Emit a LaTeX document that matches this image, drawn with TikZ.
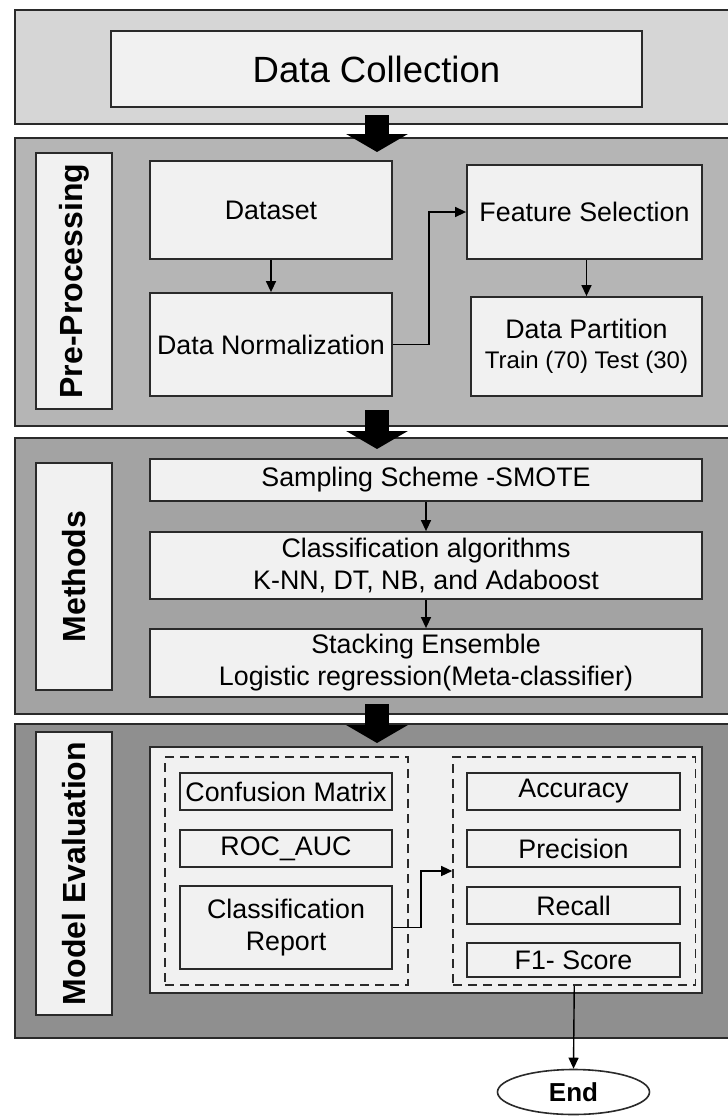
\documentclass[tikz,border=0pt]{standalone}
\usepackage{fontspec}
\setmainfont{Liberation Sans}
\usetikzlibrary{arrows.meta,shapes.geometric}
\definecolor{pone}{HTML}{D6D6D6}
\definecolor{ptwo}{HTML}{B5B5B5}
\definecolor{pthree}{HTML}{A3A3A3}
\definecolor{pfour}{HTML}{8F8F8F}
\definecolor{boxfill}{HTML}{F1F1F1}
\definecolor{edge}{HTML}{2A2A2A}
\begin{document}
\begin{tikzpicture}[x=1pt,y=-1pt,
  panel/.style={draw=edge, line width=2pt, rectangle, inner sep=0pt},
  box/.style={draw=edge, line width=1.8pt, fill=boxfill, rectangle, inner sep=1pt, align=center,
    font=\fontsize{26.8}{32}\selectfont},
  lab/.style={draw=edge, line width=1.8pt, fill=boxfill, rectangle, inner sep=0pt,
    font=\fontsize{32}{36}\selectfont\bfseries},
  dbox/.style={draw=edge, line width=1.6pt, dash pattern=on 9pt off 6pt, rectangle, inner sep=0pt},
  conn/.style={draw=black, line width=1.4pt, -{Triangle[length=11pt,width=10pt]}},
  bigarrow/.style={draw=black, line width=24pt, -{Triangle[length=18pt,width=61pt]}},
]
\clip (0,0) rectangle (728,1117);
\fill[white] (0,0) rectangle (728,1117);

% panels
\node[panel, fill=pone, minimum width=760, minimum height=114, anchor=north west] (P1) at (14,9) {};
\node[panel, fill=ptwo, minimum width=760, minimum height=288, anchor=north west] (P2) at (14,137) {};
\node[panel, fill=pthree, minimum width=760, minimum height=276, anchor=north west] (P3) at (14,437) {};
\node[panel, fill=pfour, minimum width=760, minimum height=314, anchor=north west] (P4) at (14,723) {};

% panel 1
\node[box, minimum width=531, minimum height=76, font=\fontsize{36.5}{40}\selectfont] (DC) at (376.5,69) {Data Collection};

% labels
\node[lab, minimum height=76, minimum width=256, rotate=90] (L2) at (74,281) {Pre-Processing};
\node[lab, minimum height=76, minimum width=227, rotate=90] (L3) at (74,576.5) {Methods};
\node[lab, minimum height=76, minimum width=283, rotate=90] (L4) at (74,873.5) {Model Evaluation};

% panel 2
\node[box, minimum width=242, minimum height=98] (DS) at (271,210) {Dataset};
\node[box, minimum width=242, minimum height=103] (DN) at (271,344.5) {Data Normalization};
\node[box, minimum width=235, minimum height=94] (FS) at (584.5,212) {Feature Selection};
\node[box, minimum width=231, minimum height=99] (DP) at (586.5,346.5) {Data Partition\\[-2pt]{\fontsize{24}{28}\selectfont Train (70) Test (30)}};

% panel 3
\node[box, minimum width=552, minimum height=42] (SS) at (426,480) {Sampling Scheme -SMOTE};
\node[box, minimum width=552, minimum height=67] (CA) at (426,565.5) {Classification algorithms\\K-NN, DT, NB, and Adaboost};
\node[box, minimum width=552, minimum height=68] (SE) at (426,663) {Stacking Ensemble\\Logistic regression(Meta-classifier)};

% panel 4
\node[box, minimum width=552, minimum height=246] (IW) at (426,870) {};
\node[dbox, minimum width=243, minimum height=228] (LD) at (286.5,871) {};
\node[dbox, minimum width=242.5, minimum height=228] (RD) at (574.25,871) {};
\node[box, minimum width=212, minimum height=37, inner sep=0pt] (CM) at (286,791.5) {Confusion Matrix};
\node[box, minimum width=212, minimum height=37] (RA) at (286,848.5) {ROC\_AUC};
\node[box, minimum width=212, minimum height=83] (CR) at (286,927.5) {Classification\\Report};
\node[box, minimum width=213, minimum height=37] (AC) at (573.5,791.5) {Accuracy};
\node[box, minimum width=213, minimum height=37] (PR) at (573.5,848.5) {Precision};
\node[box, minimum width=213, minimum height=37] (RC) at (573.5,905.5) {Recall};
\node[box, minimum width=213, minimum height=34] (F1) at (573.5,960) {F1- Score};

% end
\node[ellipse, draw=edge, line width=1.6pt, fill=white, minimum width=152, minimum height=45, inner sep=0pt,
  font=\fontsize{26}{30}\selectfont\bfseries] (END) at (573.5,1092) {End};

% connectors
\draw[conn] (DS.south) -- (DN.north);
\draw[conn] (DN.east) -- ++(36,0) |- (FS.west);
\draw[conn] (DP.north |- FS.south) -- (DP.north);
\draw[conn] (SS.south) -- (CA.north);
\draw[conn] (CA.south) -- (SE.north);
\draw[conn] (CR.east) -- ++(28,0) |- (RD.west);
\draw[conn] (RD.south) -- (END.north);

% big arrows
\coordinate (A1s) at (377,115);
\coordinate (A1e) at (377,152);
\coordinate (A2s) at (377,410);
\coordinate (A2e) at (377,449);
\coordinate (A3s) at (377,704);
\coordinate (A3e) at (377,743);
\draw[bigarrow] (A1s) -- (A1e);
\draw[bigarrow] (A2s) -- (A2e);
\draw[bigarrow] (A3s) -- (A3e);
\end{tikzpicture}
\end{document}
